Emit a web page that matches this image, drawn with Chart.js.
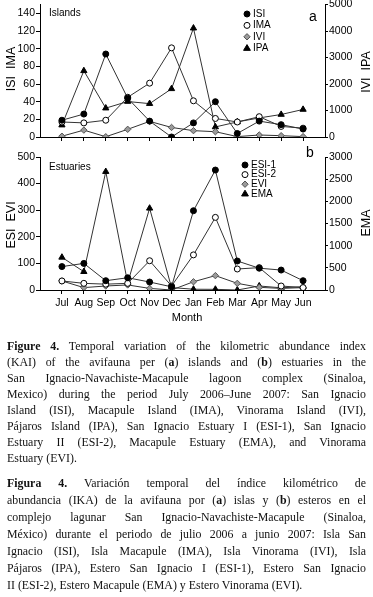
<!DOCTYPE html>
<html>
<head>
<meta charset="utf-8">
<script src="https://cdn.jsdelivr.net/npm/chart.js@4/dist/chart.umd.min.js"></script>
<style>
  body { margin: 0; background: #fff; width: 373px; height: 597px; overflow: hidden; position: relative; }
  #topChart { position: absolute; left: 0; top: 0; }
  #botChart { position: absolute; left: 0; top: 140px; }
  .cap { position: absolute; left: 7px; width: 408px; transform: scaleX(0.88); transform-origin: 0 0;
         font-family: 'Liberation Serif', 'Times New Roman', serif; font-size: 13.5px; color: #111; }
  .cap div { text-align: justify; text-align-last: justify; }
  .cap div.last { text-align-last: left; }
  #en div { height: 16px; line-height: 16px; }
  #es div { height: 17px; line-height: 17px; }
</style>
</head>
<body>
<canvas id="topChart" width="373" height="150"></canvas>
<canvas id="botChart" width="373" height="190"></canvas>

<div class="cap" id="en" style="top:338px">
  <div><b>Figure 4.</b> Temporal variation of the kilometric abundance index</div>
  <div>(KAI) of the avifauna per (<b>a</b>) islands and (<b>b</b>) estuaries in the</div>
  <div>San Ignacio-Navachiste-Macapule lagoon complex (Sinaloa,</div>
  <div>Mexico) during the period July 2006–June 2007: San Ignacio</div>
  <div>Island (ISI), Macapule Island (IMA), Vinorama Island (IVI),</div>
  <div>Pájaros Island (IPA), San Ignacio Estuary I (ESI-1), San Ignacio</div>
  <div>Estuary II (ESI-2), Macapule Estuary (EMA), and Vinorama</div>
  <div class="last">Estuary (EVI).</div>
</div>
<div class="cap" id="es" style="top:474px">
  <div><b>Figura 4.</b> Variación temporal del índice kilométrico de</div>
  <div>abundancia (IKA) de la avifauna por (<b>a</b>) islas y (<b>b</b>) esteros en el</div>
  <div>complejo lagunar San Ignacio-Navachiste-Macapule (Sinaloa,</div>
  <div>México) durante el periodo de julio 2006 a junio 2007: Isla San</div>
  <div>Ignacio (ISI), Isla Macapule (IMA), Isla Vinorama (IVI), Isla</div>
  <div>Pájaros (IPA), Estero San Ignacio I (ESI-1), Estero San Ignacio</div>
  <div class="last">II (ESI-2), Estero Macapule (EMA) y Estero Vinorama (EVI).</div>
</div>

<script>
const months = ['Jul', 'Aug', 'Sep', 'Oct', 'Nov', 'Dec', 'Jan', 'Feb', 'Mar', 'Apr', 'May', 'Jun'];

// (a) islands: ISI, IMA on left axis; IVI, IPA on right axis
const isi = [19, 26, 94, 44, 18, 0, 16, 40, 4, 18, 14, 9];
const ima = [17, 16, 19, 45, 61, 101, 41, 21, 17, 23, 12, 10];
const ivi = [30, 260, 10, 290, 590, 360, 240, 200, 15, 75, 50, 15];
const ipa = [450, 2500, 1090, 1340, 1260, 1820, 4110, 380, 570, 720, 850, 1040];

// (b) estuaries: ESI-1, ESI-2, EVI on left axis; EMA on right axis
const esi1 = [88, 100, 35, 46, 30, 12, 298, 451, 109, 82, 75, 35];
const esi2 = [34, 25, 22, 25, 110, 15, 132, 273, 79, 84, 15, 9];
const evi = [34, 9, 15, 19, 6, 0, 31, 54, 25, 10, 6, 9];
const ema = [737, 413, 2670, 160, 1843, 55, 17, 15, 0, 90, 50, 75];

const leftTicksA = [0, 20, 40, 60, 80, 100, 120, 140];
const rightTicksA = [0, 1000, 2000, 3000, 4000, 5000];
const leftTicksB = [0, 100, 200, 300, 400, 500];
const rightTicksB = [0, 500, 1000, 1500, 2000, 2500, 3000];

const FONT = "'Liberation Sans', Arial, sans-serif";
Chart.defaults.font.family = FONT;
Chart.defaults.font.size = 10.5;
Chart.defaults.color = '#000';

const pts = vals => vals.map((v, i) => ({ x: i + 1, y: v }));

const styles = {
  filled:  { pointStyle: 'circle', pointRadius: 3, pointBackgroundColor: '#000', pointBorderColor: '#000' },
  open:    { pointStyle: 'circle', pointRadius: 3, pointBackgroundColor: '#fff', pointBorderColor: '#000' },
  diamond: { pointStyle: 'rectRot', pointRadius: 3.2, pointBackgroundColor: '#9a9a9a', pointBorderColor: '#555' },
  tri:     { pointStyle: 'triangle', pointRadius: 3.6, pointBackgroundColor: '#000', pointBorderColor: '#000' }
};

function series(label, vals, axis, st) {
  return Object.assign({
    label, data: pts(vals), yAxisID: axis,
    borderColor: '#333', borderWidth: 1, tension: 0, pointBorderWidth: 1, pointHoverRadius: 3
  }, st);
}

// small legend glyph, same look as the points
function glyph(ctx, st, x, y) {
  ctx.save();
  ctx.fillStyle = st.pointBackgroundColor;
  ctx.strokeStyle = st.pointBorderColor;
  ctx.lineWidth = 1;
  const r = st.pointRadius;
  ctx.beginPath();
  if (st.pointStyle === 'circle') {
    ctx.arc(x, y, r, 0, Math.PI * 2);
  } else if (st.pointStyle === 'rectRot') {
    ctx.moveTo(x, y - r); ctx.lineTo(x + r, y); ctx.lineTo(x, y + r); ctx.lineTo(x - r, y);
  } else {
    ctx.moveTo(x, y - r); ctx.lineTo(x + r * 0.95, y + r * 0.6); ctx.lineTo(x - r * 0.95, y + r * 0.6);
  }
  ctx.closePath();
  ctx.fill(); ctx.stroke();
  ctx.restore();
}

// texts: axis titles, panel names, legend
const decor = {
  id: 'decor',
  afterDraw(chart, args, o) {
    const ctx = chart.ctx;
    ctx.save();
    ctx.fillStyle = '#000';
    ctx.textBaseline = 'middle';
    ctx.font = '12.5px ' + FONT;
    ctx.textAlign = 'center';
    [[o.leftTitle, 12, o.leftY], [o.rightTitle, 367, o.rightY]].forEach(([t, x, y]) => {
      ctx.save(); ctx.translate(x, y); ctx.rotate(-Math.PI / 2); ctx.fillText(t, 0, 0); ctx.restore();
    });
    ctx.font = '14px ' + FONT;
    ctx.fillText(o.letter[0], o.letter[1], o.letter[2]);
    if (o.xTitle) { ctx.font = '11px ' + FONT; ctx.fillText(o.xTitle, 187, o.xTitleY); }
    ctx.textAlign = 'left';
    ctx.font = '10px ' + FONT;
    ctx.fillText(o.panel, 49, o.panelY);
    chart.data.datasets.forEach((ds, i) => {
      const y = o.legY + i * o.legStep;
      glyph(ctx, ds, o.legX, y);
      ctx.fillText(ds.label, o.legX + 6, y);
    });
    ctx.restore();
  }
};

function fixBox(w, h) {
  return s => {
    if (w !== null) s.width = w;
    if (h !== null) s.height = h;
    s.paddingTop = 0; s.paddingBottom = 0; s.paddingLeft = 0; s.paddingRight = 0;
  };
}

const gridStyle = { drawOnChartArea: false, drawTicks: true, tickLength: 4, color: '#000', lineWidth: 1 };
const borderStyle = { display: true, color: '#000', width: 1 };

function makeScales(showLabels, xHeight, yMax, yTicks, y1Max, y1Ticks) {
  return {
    x: {
      type: 'linear', min: 0, max: 13, position: 'bottom',
      afterBuildTicks: s => { s.ticks = months.map((m, i) => ({ value: i + 1 })); },
      afterFit: fixBox(null, xHeight),
      grid: gridStyle, border: borderStyle,
      ticks: { display: showLabels, padding: 3, autoSkip: false, maxRotation: 0,
               callback: v => months[v - 1] }
    },
    y: {
      position: 'left', min: 0, max: yMax,
      afterBuildTicks: s => { s.ticks = yTicks.map(v => ({ value: v })); },
      afterFit: fixBox(40, null),
      grid: gridStyle, border: borderStyle,
      ticks: { padding: 1, callback: v => String(v) }
    },
    y1: {
      position: 'right', min: 0, max: y1Max,
      afterBuildTicks: s => { s.ticks = y1Ticks.map(v => ({ value: v })); },
      afterFit: fixBox(48, null),
      grid: Object.assign({}, gridStyle, { tickLength: 3 }), border: borderStyle,
      ticks: { padding: 1, callback: v => String(v) }
    }
  };
}

new Chart(document.getElementById('topChart'), {
  type: 'line',
  data: {
    datasets: [
      series('ISI', isi, 'y', styles.filled),
      series('IMA', ima, 'y', styles.open),
      series('IVI', ivi, 'y1', styles.diamond),
      series('IPA', ipa, 'y1', styles.tri)
    ]
  },
  options: {
    responsive: false, animation: false,
    layout: { padding: { top: 3, left: 0, right: 0, bottom: 0 } },
    scales: makeScales(false, 13, 150, leftTicksA, 5000, rightTicksA),
    plugins: {
      legend: { display: false }, tooltip: { enabled: false },
      decor: { leftTitle: 'ISI  IMA', leftY: 69, rightTitle: 'IVI  IPA', rightY: 72,
               letter: ['a', 313, 17], panel: 'Islands', panelY: 13,
               legX: 247, legY: 14, legStep: 11.4 }
    }
  },
  plugins: [decor]
});

new Chart(document.getElementById('botChart'), {
  type: 'line',
  data: {
    datasets: [
      series('ESI-1', esi1, 'y', styles.filled),
      series('ESI-2', esi2, 'y', styles.open),
      series('EVI', evi, 'y', styles.diamond),
      series('EMA', ema, 'y1', styles.tri)
    ]
  },
  options: {
    responsive: false, animation: false,
    layout: { padding: { top: 17, left: 0, right: 0, bottom: 0 } },
    scales: makeScales(true, 40, 500, leftTicksB, 3000, rightTicksB),
    plugins: {
      legend: { display: false }, tooltip: { enabled: false },
      decor: { leftTitle: 'ESI  EVI', leftY: 85, rightTitle: 'EMA', rightY: 83,
               letter: ['b', 310, 13], panel: 'Estuaries', panelY: 27,
               legX: 245, legY: 25, legStep: 9.6, xTitle: 'Month', xTitleY: 178 }
    }
  },
  plugins: [decor]
});
</script>
</body>
</html>
